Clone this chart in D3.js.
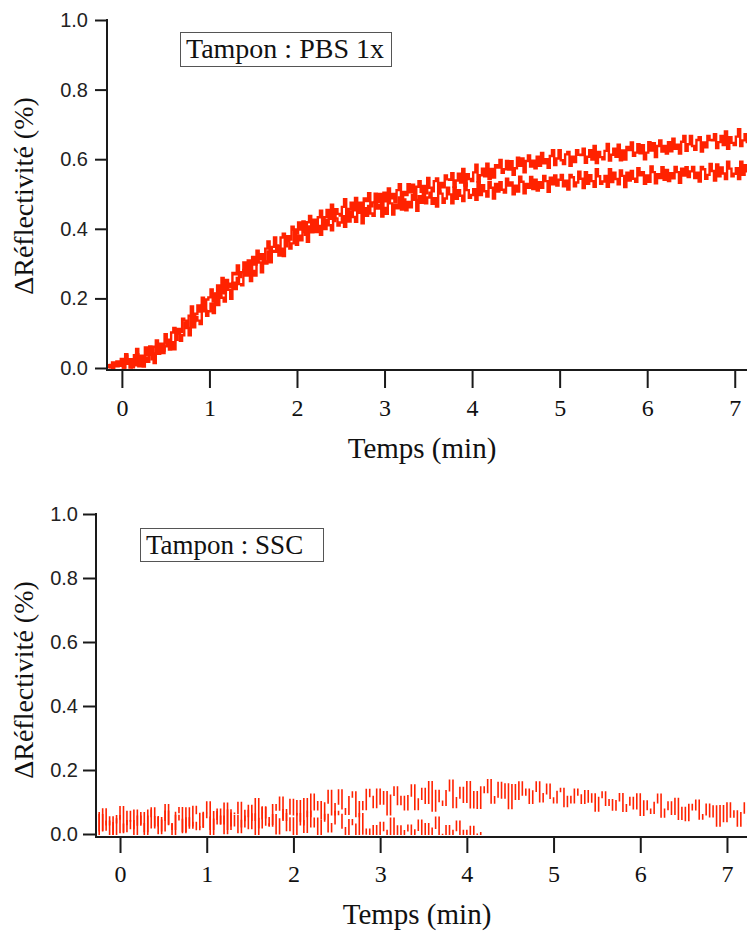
<!DOCTYPE html>
<html><head><meta charset="utf-8">
<script src="https://cdn.jsdelivr.net/npm/d3@7"></script>
<style>body{margin:0;background:#fff}</style>
</head><body>
<svg id="c" width="747" height="931" xmlns="http://www.w3.org/2000/svg"></svg>
<script>
// ---------- DATA ----------
const xTickValues = [0, 1, 2, 3, 4, 5, 6, 7];
const yTickValues = [0, 0.2, 0.4, 0.6, 0.8, 1.0];
const xLabel = "Temps (min)";
const yLabel = "\u0394R\u00e9flectivit\u00e9 (%)";
const topLegend = "Tampon : PBS 1x";
const bottomLegend = "Tampon : SSC";

// sampling of the traces (start time in min, interval in min)
const topStart = -0.15, topStep = 0.025;
const bottomStart = -0.28, bottomStep = 0.04;

// PBS 1x : upper trace
const pbsUpper = [
.008,.002,.016,.006,.019,.014,
.026,.001,.040,.012,.025,.002,.037,.055,.014,.035,
.026,.059,.038,.062,.025,.061,.079,.050,.070,.050,
.097,.073,.069,.102,.115,.081,.112,.103,.142,.136,
.121,.150,.177,.134,.156,.180,.162,.202,.163,.197,
.203,.226,.191,.213,.237,.216,.259,.215,.253,.242,
.233,.273,.269,.295,.261,.275,.303,.281,.309,.273,
.319,.297,.337,.312,.327,.306,.343,.364,.325,.348,
.375,.350,.343,.375,.386,.350,.379,.369,.406,.398,
.386,.418,.398,.421,.383,.419,.437,.407,.426,.407,
.433,.452,.415,.433,.454,.429,.469,.422,.456,.443,
.438,.463,.485,.438,.456,.475,.453,.489,.446,.475,
.450,.487,.480,.502,.465,.476,.501,.476,.500,.461,
.504,.479,.516,.488,.500,.476,.511,.528,.487,.506,
.497,.528,.505,.527,.487,.521,.537,.506,.523,.502,
.546,.518,.508,.537,.545,.506,.532,.519,.553,.542,
.541,.560,.521,.539,.558,.533,.572,.524,.557,.543,
.537,.562,.584,.536,.554,.573,.551,.587,.543,.572,
.547,.583,.576,.598,.561,.571,.595,.570,.594,.555,
.574,.604,.581,.602,.562,.595,.611,.579,.596,.574,
.607,.581,.618,.588,.600,.575,.609,.626,.583,.602,
.626,.597,.586,.614,.621,.581,.607,.592,.626,.613,
.612,.630,.590,.607,.626,.599,.638,.589,.621,.606,
.600,.624,.644,.596,.613,.630,.607,.642,.597,.625,
.599,.635,.626,.648,.610,.619,.643,.617,.640,.600,
.619,.649,.625,.646,.606,.638,.654,.622,.638,.616,
.649,.623,.659,.630,.642,.616,.650,.667,.624,.643,
.667,.638,.627,.655,.663,.622,.648,.634,.667,.655,
.654,.672,.632,.649,.667,.641,.680,.630,.663,.647,
.641,.665,.686,.638,.654,.672,.649
];

// PBS 1x : lower trace
const pbsLower = [
.003,.009,.000,.011,.005,.009,
.006,.001,.035,.020,.001,.017,.008,.040,.005,.034,
.004,.030,.018,.054,.042,.014,.058,.041,.068,.043,
.062,.081,.053,.074,.054,.101,.099,.078,.094,.130,
.115,.094,.145,.117,.147,.136,.126,.181,.167,.150,
.163,.185,.158,.214,.181,.214,.202,.191,.237,.225,
.199,.245,.227,.259,.241,.238,.282,.266,.280,.250,
.279,.266,.314,.303,.275,.306,.300,.335,.304,.336,
.334,.352,.323,.343,.322,.368,.365,.343,.358,.393,
.354,.380,.367,.403,.391,.363,.407,.390,.417,.391,
.408,.383,.430,.399,.425,.410,.396,.447,.430,.409,
.418,.436,.406,.457,.421,.450,.434,.420,.461,.446,
.416,.459,.437,.466,.444,.437,.477,.458,.468,.435,
.460,.443,.488,.473,.441,.469,.459,.490,.455,.484,
.453,.477,.462,.497,.483,.452,.494,.475,.501,.473,
.490,.504,.472,.488,.464,.507,.501,.475,.487,.518,
.499,.473,.519,.486,.511,.495,.480,.530,.511,.489,
.497,.514,.483,.534,.497,.525,.508,.493,.534,.518,
.487,.529,.507,.534,.512,.504,.544,.524,.533,.499,
.524,.507,.550,.535,.502,.529,.518,.549,.514,.541,
.510,.534,.518,.552,.537,.506,.547,.528,.553,.524,
.541,.555,.522,.538,.513,.555,.548,.522,.533,.564,
.544,.517,.563,.529,.554,.537,.521,.571,.551,.529,
.536,.552,.521,.571,.534,.561,.543,.528,.568,.552,
.520,.561,.539,.566,.544,.535,.574,.554,.563,.529,
.553,.535,.579,.563,.531,.557,.546,.577,.541,.569,
.537,.560,.545,.578,.563,.532,.573,.553,.577,.549,
.565,.578,.546,.561,.536,.578,.571,.544,.555,.586,
.566,.539,.585,.551,.576,.559,.543,.593,.573,.551,
.558,.574,.543,.593,.555,.583,.565
];

// SSC : long trace
const sscA = [
.066,.010,.078,.029,.053,-.002,.047,.085,.008,.041,
.017,.074,.028,.066,-.006,.055,.081,.026,.051,.010,
.091,.032,.015,.067,.082,.005,.050,.026,.086,.064,
.022,.067,.100,.015,.046,.077,.032,.096,.015,.065,
.064,.098,.023,.055,.089,.043,.110,.020,.084,.051,
.025,.091,.075,.115,.043,.063,.108,.060,.104,.029,
.110,.055,.124,.076,.101,.047,.097,.136,.060,.094,
.137,.079,.062,.116,.131,.055,.101,.077,.139,.117,
.083,.140,.094,.132,.060,.121,.147,.092,.117,.076,
.119,.153,.077,.109,.142,.096,.163,.072,.136,.102,
.090,.135,.168,.083,.113,.145,.099,.163,.082,.132,
.081,.147,.130,.169,.097,.116,.161,.113,.156,.080,
.154,.109,.162,.122,.140,.096,.134,.162,.101,.126,
.155,.112,.098,.133,.142,.086,.117,.098,.140,.122,
.096,.135,.100,.125,.072,.114,.131,.090,.107,.075,
.104,.126,.071,.091,.114,.079,.125,.059,.103,.077,
.065,.098,.124,.053,.077,.100,.062,.111,.046,.083,
.042,.092,.076,.105,.047,.060,.093,.054,.087,.025,
.088,.039,.097,.053,.072,.025,.066,.097,.029,.057
];

// SSC : short trace (drifts below zero)
const sscB = [
-.007,.060,.013,.040,-.019,.035,.057,.005,.030,.070,
.041,-.007,.055,.032,.008,.074,.020,.054,.002,.043,
.071,.030,-.004,.058,.045,.009,.081,.019,.036,.014,
.022,.064,.052,-.008,.069,.032,.055,.002,.075,.026,
.057,.005,.042,.073,.017,.062,-.001,.048,.082,.028,
.031,.060,.001,.047,.076,.011,.050,-.006,.063,.041,
.006,.071,.023,.049,-.012,.041,.061,.007,.032,.070,
.061,.019,-.017,.044,.030,-.008,.063,.000,.015,-.008,
.026,-.024,.036,.011,-.015,.049,-.007,.025,-.029,.010,
.027,-.025,.012,.043,-.013,.032,-.031,.018,.052,-.002,
-.002,.026,-.034,.011,.040,-.027,.011,-.046,.023,-.001,
-.020,.004
];

// ---------- DRAWING ----------
const RED = "#ff2200";
const AXIS = "#1a1a1a";
const SERIF = "'Liberation Serif', 'Times New Roman', serif";
const SANS = "'Liberation Sans', Arial, sans-serif";
const svg = d3.select("#c");

// each sample drawn as a vertical stroke from the previous sample's value
function spikePath(s, x, y) {
  const p = d3.path();
  s.values.forEach((v, i) => {
    const t = s.start + i * s.step;
    const prev = i ? s.values[i - 1] : v;
    p.moveTo(x(t), y(prev));
    p.lineTo(x(t), y(v));
  });
  return p.toString();
}

function panel(o) {
  const g = svg.append("g");
  const x = d3.scaleLinear().domain(o.xDomain).range([o.left, o.right]);
  const y = d3.scaleLinear().domain([0, 1]).range([o.yZero, o.yOne]);

  const clipId = "clip" + o.id;
  svg.append("defs").append("clipPath").attr("id", clipId)
    .append("rect").attr("x", o.left + 1).attr("y", o.yOne - 5)
    .attr("width", o.right - o.left).attr("height", o.yZero - o.yOne + 6);

  const lg = g.append("g").attr("clip-path", `url(#${clipId})`);
  o.series.forEach(s => {
    if (o.mode === "step") {
      const line = d3.line().curve(d3.curveStep)
        .x((d, i) => x(s.start + i * s.step)).y(d => y(d));
      lg.append("path").datum(s.values).attr("d", line)
        .attr("fill", "none").attr("stroke", RED)
        .attr("stroke-width", o.strokeWidth).attr("stroke-linecap", "square");
    } else {
      lg.append("path").attr("d", spikePath(s, x, y))
        .attr("fill", "none").attr("stroke", RED)
        .attr("stroke-width", o.strokeWidth).attr("stroke-linecap", "square");
    }
  });

  // Y axis
  const ya = g.append("g").attr("transform", `translate(${o.left},0)`)
    .call(d3.axisLeft(y).tickValues(yTickValues).tickSize(o.yTick).tickPadding(o.yPad)
      .tickFormat(d3.format(".1f")));
  ya.select(".domain").remove();
  ya.selectAll(".tick line").attr("stroke", AXIS).attr("stroke-width", 2);
  ya.selectAll(".tick text").attr("font-family", SANS)
    .attr("font-size", 20).attr("fill", "#222");
  g.append("line").attr("x1", o.left).attr("x2", o.left)
    .attr("y1", o.yOne - 1).attr("y2", o.axisY + 1)
    .attr("stroke", AXIS).attr("stroke-width", 2);

  // X axis
  const xa = g.append("g").attr("transform", `translate(0,${o.axisY})`)
    .call(d3.axisBottom(x).tickValues(xTickValues).tickSize(o.xTick).tickFormat(d3.format("d")));
  xa.select(".domain").remove();
  xa.selectAll(".tick line").attr("stroke", AXIS).attr("stroke-width", 2);
  xa.selectAll(".tick text").attr("font-family", SERIF)
    .attr("font-size", 24).attr("fill", "#111").attr("dy", null).attr("y", o.xLabelY);
  g.append("line").attr("x1", o.left - 1).attr("x2", o.right)
    .attr("y1", o.axisY).attr("y2", o.axisY)
    .attr("stroke", AXIS).attr("stroke-width", 2);

  // axis titles
  g.append("text").attr("x", o.xTitleX).attr("y", o.xTitleY)
    .attr("text-anchor", "middle").attr("font-family", SERIF)
    .attr("font-size", 29).attr("fill", "#111").text(xLabel);
  g.append("text")
    .attr("transform", `translate(${o.yTitleX},${o.yTitleY}) rotate(-90)`)
    .attr("text-anchor", "middle").attr("font-family", SERIF)
    .attr("font-size", 28).attr("fill", "#111").text(yLabel);

  // legend box
  g.append("rect").attr("x", o.box[0] + 0.5).attr("y", o.box[1] + 0.5)
    .attr("width", o.box[2]).attr("height", o.box[3])
    .attr("fill", "#fff").attr("stroke", "#555").attr("stroke-width", 1);
  g.append("text").attr("x", o.box[0] + 6).attr("y", o.box[1] + 26)
    .attr("font-family", SERIF)
    .attr("font-size", o.legendSize).attr("fill", "#111").text(o.legend);
}

panel({
  id: "top", left: 107, right: 747, yZero: 368, yOne: 20, axisY: 370,
  xDomain: [-0.17, 7.14], yTick: 12, yPad: 7, xTick: 18, xLabelY: 46,
  xTitleX: 422, xTitleY: 458, yTitleX: 33, yTitleY: 196,
  box: [180, 32, 211, 34], legend: topLegend, legendSize: 28,
  mode: "step", strokeWidth: 2.4,
  series: [
    {values: pbsLower, start: topStart, step: topStep},
    {values: pbsUpper, start: topStart, step: topStep}
  ]
});

panel({
  id: "bottom", left: 96, right: 747, yZero: 834, yOne: 514, axisY: 837,
  xDomain: [-0.277, 7.231], yTick: 13, yPad: 5, xTick: 16, xLabelY: 45,
  xTitleX: 417, xTitleY: 924, yTitleX: 33, yTitleY: 680,
  box: [140, 528, 183, 33], legend: bottomLegend, legendSize: 27,
  mode: "spike", strokeWidth: 1.6,
  series: [
    {values: sscB, start: bottomStart, step: bottomStep},
    {values: sscA, start: bottomStart, step: bottomStep}
  ]
});
</script>
</body></html>
